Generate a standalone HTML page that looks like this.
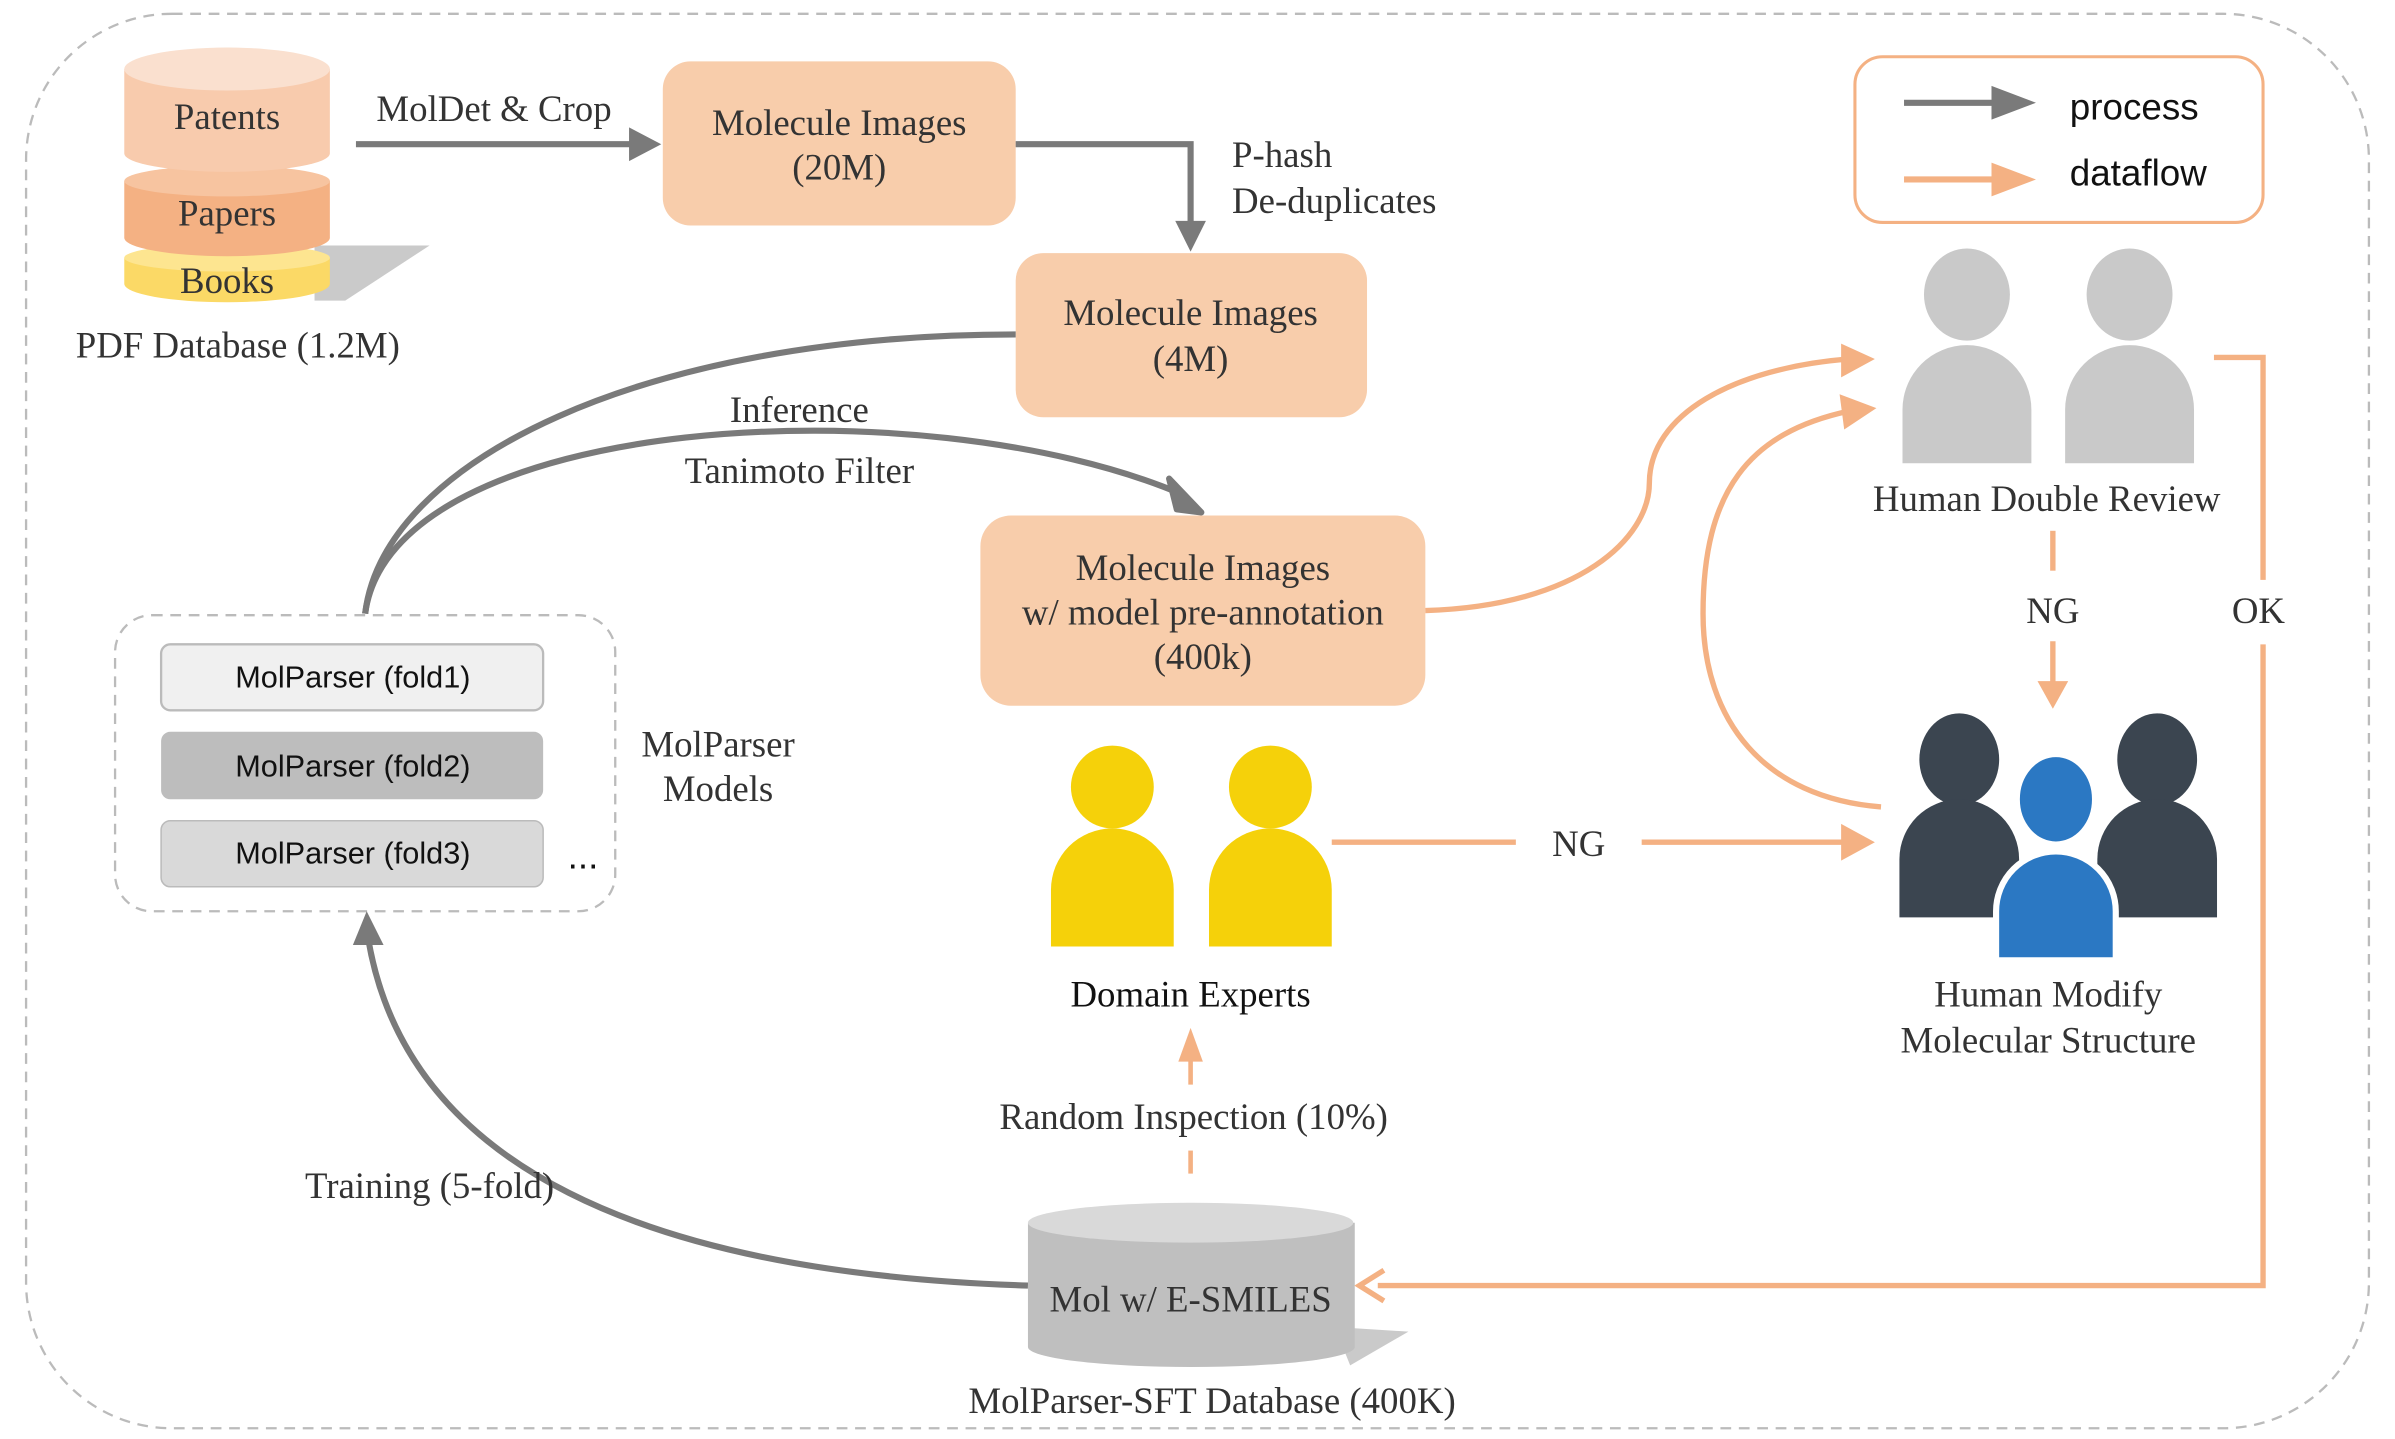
<!DOCTYPE html>
<html><head><meta charset="utf-8"><style>
html,body{margin:0;padding:0;background:#fff;}
svg{display:block;}
.t{font-family:"Liberation Serif",serif;font-size:24px;fill:#333;}
.s{font-family:"Liberation Sans",sans-serif;fill:#111;}
</style></head><body>
<svg width="2395" height="1439" viewBox="0 0 1561 938" preserveAspectRatio="none" xmlns="http://www.w3.org/2000/svg">
<rect x="17" y="9" width="1527" height="922" rx="95" fill="none" stroke="#bbb" stroke-width="1.5" stroke-dasharray="7,5"/>

<polygon points="205,160 280,160 225,196 205,196" fill="#c4c4c4" opacity="0.9"/>
<path d="M81,168 V185 A67,12 0 0 0 215,185 V168 Z" fill="#fbd966"/>
<ellipse cx="148" cy="168" rx="67" ry="9" fill="#fde590"/>
<path d="M81,118 V155 A67,12 0 0 0 215,155 V118 Z" fill="#f4b183"/>
<ellipse cx="148" cy="118" rx="67" ry="10" fill="#f7c4a0"/>
<path d="M81,45 V100 A67,12 0 0 0 215,100 V45 Z" fill="#f8cbad"/>
<ellipse cx="148" cy="45" rx="67" ry="14" fill="#fae0cf"/>
<text class="t" x="148" y="84" text-anchor="middle">Patents</text>
<text class="t" x="148" y="147" text-anchor="middle">Papers</text>
<text class="t" x="148" y="191" text-anchor="middle">Books</text>
<text class="t" x="155" y="233" text-anchor="middle">PDF Database (1.2M)</text>

<line x1="232" y1="94" x2="414" y2="94" stroke="#7a7a7a" stroke-width="4"/>
<path d="M410,83 L431,94 L410,105 Z" fill="#7a7a7a"/>
<text class="t" x="322" y="79" text-anchor="middle">MolDet &amp; Crop</text>

<rect x="432" y="40" width="230" height="107" rx="18" fill="#f8cdab"/>
<text class="t" x="547" y="88" text-anchor="middle">Molecule Images</text>
<text class="t" x="547" y="117" text-anchor="middle">(20M)</text>

<polyline points="662,94 776,94 776,148" fill="none" stroke="#7a7a7a" stroke-width="4"/>
<path d="M766,144 L776,164 L786,144 Z" fill="#7a7a7a"/>
<text class="t" x="803" y="109">P-hash</text>
<text class="t" x="803" y="139">De-duplicates</text>

<rect x="662" y="165" width="229" height="107" rx="18" fill="#f8cdab"/>
<text class="t" x="776" y="212" text-anchor="middle">Molecule Images</text>
<text class="t" x="776" y="242" text-anchor="middle">(4M)</text>

<path d="M238,400 C250,300 420,218 662,218" fill="none" stroke="#7a7a7a" stroke-width="4"/>
<path d="M238,400 C255,270 600,250 770,322" fill="none" stroke="#7a7a7a" stroke-width="4"/>
<path d="M762,312 L783,334 L767,332 Z" fill="#7a7a7a" stroke="#7a7a7a" stroke-width="4" stroke-linejoin="round"/>
<text class="t" x="521" y="275" text-anchor="middle">Inference</text>
<text class="t" x="521" y="315" text-anchor="middle">Tanimoto Filter</text>

<rect x="639" y="336" width="290" height="124" rx="20" fill="#f8cdab"/>
<text class="t" x="784" y="378" text-anchor="middle">Molecule Images</text>
<text class="t" x="784" y="407" text-anchor="middle">w/ model pre-annotation</text>
<text class="t" x="784" y="436" text-anchor="middle">(400k)</text>

<rect x="75" y="401" width="326" height="193" rx="24" fill="none" stroke="#bbb" stroke-width="1.5" stroke-dasharray="7,5"/>
<rect x="105" y="420" width="249" height="43" rx="6" fill="#f0f0f0" stroke="#bbb" stroke-width="1.5"/>
<rect x="105" y="477" width="249" height="44" rx="6" fill="#bdbdbd"/>
<rect x="105" y="535" width="249" height="43" rx="6" fill="#d9d9d9" stroke="#bbb" stroke-width="1"/>
<text class="s" x="230" y="448" font-size="20" text-anchor="middle">MolParser (fold1)</text>
<text class="s" x="230" y="506" font-size="20" text-anchor="middle">MolParser (fold2)</text>
<text class="s" x="230" y="563" font-size="20" text-anchor="middle">MolParser (fold3)</text>
<text class="s" x="380" y="566" font-size="24" text-anchor="middle">...</text>
<text class="t" x="468" y="493" text-anchor="middle">MolParser</text>
<text class="t" x="468" y="522" text-anchor="middle">Models</text>

<path d="M670,838 C420,830 265,760 240,612" fill="none" stroke="#7a7a7a" stroke-width="4"/>
<path d="M230,616 L239,594 L250,616 Z" fill="#7a7a7a"/>
<text class="t" x="280" y="781" text-anchor="middle">Training (5-fold)</text>

<rect x="1209" y="37" width="266" height="108" rx="18" fill="#fff" stroke="#f4b183" stroke-width="2"/>
<line x1="1241" y1="67" x2="1302" y2="67" stroke="#7a7a7a" stroke-width="4"/>
<path d="M1298,56 L1327,67 L1298,78 Z" fill="#7a7a7a"/>
<line x1="1241" y1="117" x2="1302" y2="117" stroke="#f4b183" stroke-width="4"/>
<path d="M1298,106 L1327,117 L1298,128 Z" fill="#f4b183"/>
<text class="s" x="1349" y="78" font-size="24">process</text>
<text class="s" x="1349" y="121" font-size="24">dataflow</text>

<ellipse cx="1282" cy="192" rx="28" ry="30" fill="#c9c9c9"/>
<path d="M1240,302 V267 A42,42 0 0 1 1324,267 V302 Z" fill="#c9c9c9"/>
<ellipse cx="1388" cy="192" rx="28" ry="30" fill="#c9c9c9"/>
<path d="M1346,302 V267 A42,42 0 0 1 1430,267 V302 Z" fill="#c9c9c9"/>
<text class="t" x="1334" y="333" text-anchor="middle">Human Double Review</text>

<path d="M929,398 C1030,395 1075,350 1075,315 C1075,270 1130,240 1205,234" fill="none" stroke="#f4b183" stroke-width="3.5"/>
<path d="M1200,224 L1222,234 L1200,246 Z" fill="#f4b183"/>
<path d="M1226,526 C1150,520 1110,470 1110,400 C1110,320 1140,282 1205,268" fill="none" stroke="#f4b183" stroke-width="3.5"/>
<path d="M1199,257 L1223,266 L1202,280 Z" fill="#f4b183"/>

<line x1="1338" y1="346" x2="1338" y2="372" stroke="#f4b183" stroke-width="3.5"/>
<line x1="1338" y1="418" x2="1338" y2="446" stroke="#f4b183" stroke-width="3.5"/>
<path d="M1328,444 L1338,462 L1348,444 Z" fill="#f4b183"/>
<text class="t" x="1338" y="406" text-anchor="middle" font-size="28">NG</text>

<polyline points="1443,233 1475,233 1475,378" fill="none" stroke="#f4b183" stroke-width="3.5"/>
<polyline points="1475,420 1475,838 898,838" fill="none" stroke="#f4b183" stroke-width="3.5"/>
<path d="M902,828 L886,838 L902,848" fill="none" stroke="#f4b183" stroke-width="3.5"/>
<text class="t" x="1472" y="406" text-anchor="middle" font-size="28">OK</text>

<ellipse cx="1277" cy="495" rx="26" ry="30" fill="#3b4550"/>
<path d="M1238,598 V560 A39,39 0 0 1 1316,560 V598 Z" fill="#3b4550"/>
<ellipse cx="1406" cy="495" rx="26" ry="30" fill="#3b4550"/>
<path d="M1367,598 V560 A39,39 0 0 1 1445,560 V598 Z" fill="#3b4550"/>
<ellipse cx="1340" cy="521" rx="25" ry="29" fill="#2b78c3" stroke="#fff" stroke-width="3"/>
<path d="M1301,626 V594 A39,39 0 0 1 1379,594 V626 Z" fill="#2b78c3" stroke="#fff" stroke-width="4"/>
<text class="t" x="1335" y="656" text-anchor="middle">Human Modify</text>
<text class="t" x="1335" y="686" text-anchor="middle">Molecular Structure</text>

<ellipse cx="725" cy="513" rx="27" ry="27" fill="#f5d10a"/>
<path d="M685,617 V580 A40,40 0 0 1 765,580 V617 Z" fill="#f5d10a"/>
<ellipse cx="828" cy="513" rx="27" ry="27" fill="#f5d10a"/>
<path d="M788,617 V580 A40,40 0 0 1 868,580 V617 Z" fill="#f5d10a"/>
<text class="t" x="776" y="656" text-anchor="middle" style="fill:#111">Domain Experts</text>

<line x1="868" y1="549" x2="988" y2="549" stroke="#f4b183" stroke-width="3.5"/>
<line x1="1070" y1="549" x2="1205" y2="549" stroke="#f4b183" stroke-width="3.5"/>
<path d="M1200,537 L1222,549 L1200,561 Z" fill="#f4b183"/>
<text class="t" x="1029" y="558" text-anchor="middle" font-size="28">NG</text>

<line x1="776" y1="750" x2="776" y2="765" stroke="#f4b183" stroke-width="3"/>
<line x1="776" y1="688" x2="776" y2="707" stroke="#f4b183" stroke-width="3"/>
<path d="M768,692 L776,670 L784,692 Z" fill="#f4b183"/>
<text class="t" x="778" y="736" text-anchor="middle">Random Inspection (10%)</text>

<polygon points="870,865 918,868 880,890" fill="#c4c4c4" opacity="0.9"/>
<path d="M670,797 V878 A106,13 0 0 0 883,878 V797 Z" fill="#bfbfbf"/>
<ellipse cx="776" cy="797" rx="106" ry="13" fill="#d9d9d9"/>
<text class="t" x="776" y="855" text-anchor="middle">Mol w/ E-SMILES</text>
<text class="t" x="790" y="921" text-anchor="middle">MolParser-SFT Database (400K)</text>
</svg>
</body></html>
